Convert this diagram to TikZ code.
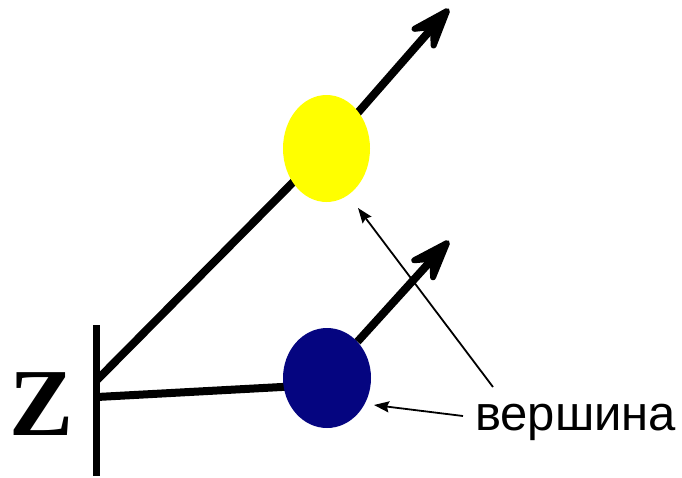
\documentclass[tikz,border=0pt]{standalone}
\usepackage{fontspec}
\setmainfont{Liberation Serif}
\newfontfamily\labelfont{Liberation Sans}
\usetikzlibrary{arrows.meta,backgrounds,shapes.geometric,calc}
\definecolor{vyellow}{RGB}{255,255,0}
\definecolor{vblue}{RGB}{5,5,128}
\tikzset{
  vertexnode/.style={ellipse,inner sep=0pt},
  thickline/.style={line width=8pt},
  headstyle/.style={fill=black,draw=black,line width=6pt,line join=round},
  thinarrow/.style={line width=1.8pt,-{Stealth[length=15pt,width=11pt,inset=2pt]}},
}
\begin{document}
\begin{tikzpicture}[x=1pt,y=-1pt]
\useasboundingbox (0,0) rectangle (682,477);
\node[vertexnode,fill=vyellow,minimum width=87pt,minimum height=107pt] (y) at (326.5,148.5) {};
\node[vertexnode,fill=vblue,minimum width=88pt,minimum height=100pt] (b) at (327,378) {};
\node[font=\fontsize{96}{96}\selectfont\bfseries,anchor=base,inner sep=0pt] (z) at (42,435) {Z};
\node[font=\labelfont\fontsize{49}{49}\selectfont,anchor=base west,inner sep=0pt] (t) at (475,430) {вершина};
\coordinate (bartop) at (96,325);
\coordinate (barbot) at (96,476);
\coordinate (j1) at (97,380);
\coordinate (j2) at (97,397);
\coordinate (bj) at (300,386);
\coordinate (ytip) at (447,11);
\coordinate (btip) at (447,243);
\coordinate (bs) at (b.50);
\coordinate (ya) at (493,387);
\coordinate (yt) at (358,208);
\coordinate (ba) at (463,416);
\coordinate (bt) at (374,405);
\begin{scope}[on background layer]
\draw[line width=7pt] (bartop) -- (barbot);
\draw[thickline] (j1) -- (y.center);
\draw[thickline] (j2) -- (bj);
\draw[thickline] (y.center) -- ($(ytip)!14pt!(y.center)$);
\draw[thickline] (bs) -- ($(btip)!14pt!(bs)$);
\end{scope}
\draw[headstyle] (ytip) -- ($(ytip)!37pt!20:(y.center)$) -- ($(ytip)!21pt!(y.center)$) -- ($(ytip)!37pt!-20:(y.center)$) -- cycle;
\draw[headstyle] (btip) -- ($(btip)!37pt!20:(bs)$) -- ($(btip)!21pt!(bs)$) -- ($(btip)!37pt!-20:(bs)$) -- cycle;
\draw[thinarrow] (ya) -- (yt);
\draw[thinarrow] (ba) -- (bt);
\end{tikzpicture}
\end{document}
